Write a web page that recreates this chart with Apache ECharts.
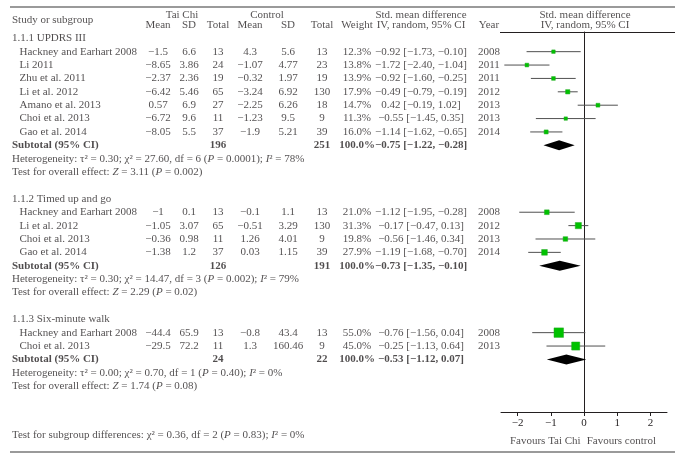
<!DOCTYPE html>
<html><head><meta charset="utf-8">
<script src="https://cdn.jsdelivr.net/npm/echarts@6/dist/echarts.min.js"></script>
<style>html,body{margin:0;padding:0;background:#fff}#c{width:682px;height:456px}</style>
</head><body><div id="c"></div>
<script>
// ---------- DATA ----------
// 1.1.1 UPDRS III
const g1Title = '1.1.1 UPDRS III';
const g1Studies = ['Hackney and Earhart 2008','Li 2011','Zhu et al. 2011','Li et al. 2012','Amano et al. 2013','Choi et al. 2013','Gao et al. 2014'];
const g1TcMean = [-1.5,-8.65,-2.37,-6.42,0.57,-6.72,-8.05];
const g1TcSD = [6.6,3.86,2.36,5.46,6.9,9.6,5.5];
const g1TcN = [13,24,19,65,27,11,37];
const g1CtMean = [4.3,-1.07,-0.32,-3.24,-2.25,-1.23,-1.9];
const g1CtSD = [5.6,4.77,1.97,6.92,6.26,9.5,5.21];
const g1CtN = [13,23,19,130,18,9,39];
const g1Weight = [12.3,13.8,13.9,17.9,14.7,11.3,16.0];
const g1Smd = [-0.92,-1.72,-0.92,-0.49,0.42,-0.55,-1.14];
const g1Lo = [-1.73,-2.40,-1.60,-0.79,-0.19,-1.45,-1.62];
const g1Hi = [-0.10,-1.04,-0.25,-0.19,1.02,0.35,-0.65];
const g1Year = [2008,2011,2011,2012,2013,2013,2014];
const g1Subtotal = [196,251,100.0,-0.75,-1.22,-0.28];

// 1.1.2 Timed up and go
const g2Title = '1.1.2 Timed up and go';
const g2Studies = ['Hackney and Earhart 2008','Li et al. 2012','Choi et al. 2013','Gao et al. 2014'];
const g2TcMean = [-1,-1.05,-0.36,-1.38];
const g2TcSD = [0.1,3.07,0.98,1.2];
const g2TcN = [13,65,11,37];
const g2CtMean = [-0.1,-0.51,1.26,0.03];
const g2CtSD = [1.1,3.29,4.01,1.15];
const g2CtN = [13,130,9,39];
const g2Weight = [21.0,31.3,19.8,27.9];
const g2Smd = [-1.12,-0.17,-0.56,-1.19];
const g2Lo = [-1.95,-0.47,-1.46,-1.68];
const g2Hi = [-0.28,0.13,0.34,-0.70];
const g2Year = [2008,2012,2013,2014];
const g2Subtotal = [126,191,100.0,-0.73,-1.35,-0.10];

// 1.1.3 Six-minute walk
const g3Title = '1.1.3 Six-minute walk';
const g3Studies = ['Hackney and Earhart 2008','Choi et al. 2013'];
const g3TcMean = [-44.4,-29.5];
const g3TcSD = [65.9,72.2];
const g3TcN = [13,11];
const g3CtMean = [-0.8,1.3];
const g3CtSD = [43.4,160.46];
const g3CtN = [13,9];
const g3Weight = [55.0,45.0];
const g3Smd = [-0.76,-0.25];
const g3Lo = [-1.56,-1.13];
const g3Hi = [0.04,0.64];
const g3Year = [2008,2013];
const g3Subtotal = [24,22,100.0,-0.53,-1.12,0.07];

// heterogeneity / overall effect per subgroup
const hetTau2 = ['0.30','0.30','0.00'];
const hetChi2 = ['27.60','14.47','0.70'];
const hetDf = [6,3,1];
const hetP = ['0.0001','0.002','0.40'];
const hetI2 = [78,79,0];
const overallZ = ['3.11','2.29','1.74'];
const overallP = ['0.002','0.02','0.08'];
const subgroupDiff = ['0.36',2,'0.83',0];

const tickValues = [-2,-1,0,1,2];
const favourLabels = ['Favours Tai Chi','Favours control'];

// ---------- BUILD ----------
const FONT = '"Liberation Serif","Times New Roman",serif';
const INK = '#231f20';
const groups = [
  {title:g1Title,studies:g1Studies,tcM:g1TcMean,tcS:g1TcSD,tcN:g1TcN,ctM:g1CtMean,ctS:g1CtSD,ctN:g1CtN,w:g1Weight,smd:g1Smd,lo:g1Lo,hi:g1Hi,yr:g1Year,sub:g1Subtotal},
  {title:g2Title,studies:g2Studies,tcM:g2TcMean,tcS:g2TcSD,tcN:g2TcN,ctM:g2CtMean,ctS:g2CtSD,ctN:g2CtN,w:g2Weight,smd:g2Smd,lo:g2Lo,hi:g2Hi,yr:g2Year,sub:g2Subtotal},
  {title:g3Title,studies:g3Studies,tcM:g3TcMean,tcS:g3TcSD,tcN:g3TcN,ctM:g3CtMean,ctS:g3CtSD,ctN:g3CtN,w:g3Weight,smd:g3Smd,lo:g3Lo,hi:g3Hi,yr:g3Year,sub:g3Subtotal}
];
const neg = v => (v < 0 ? '\u2212' : '');
const fN = v => neg(v) + String(Math.abs(v));
const f2 = v => neg(v) + Math.abs(v).toFixed(2);
const ciTxt = (s,l,h) => `${f2(s)} [${f2(l)}, ${f2(h)}]`;

const COL = {name:12, study:19.5, tcM:158, tcS:189, tcN:218, ctM:250, ctS:288, ctN:322, w:357, ci:421, yr:489, forest:585};
const texts = [];
function T(x,row,text,align,bold){
  const lab = {align:align||'center'};
  if (bold) lab.fontWeight = 'bold';
  texts.push({value:[x,row], name:String(text), label:lab});
}
// headers
T(COL.name,-2.33,'Study or subgroup','left');
T(182,-2.74,'Tai Chi'); T(COL.tcM,-1.96,'Mean'); T(COL.tcS,-1.96,'SD'); T(COL.tcN,-1.96,'Total');
T(267,-2.74,'Control'); T(COL.ctM,-1.96,'Mean'); T(COL.ctS,-1.96,'SD'); T(COL.ctN,-1.96,'Total');
T(COL.w,-1.96,'Weight'); T(COL.ci,-2.74,'Std. mean difference'); T(COL.ci,-1.96,'IV, random, 95% CI'); T(COL.yr,-1.96,'Year');
T(COL.forest,-2.74,'Std. mean difference'); T(COL.forest,-1.96,'IV, random, 95% CI');

const studyPts = [], diamondPts = [];
let r = -1;
groups.forEach((g,gi) => {
  T(COL.name,r,g.title,'left');
  g.studies.forEach((s,i) => {
    const row = r+1+i;
    T(COL.study,row,s,'left');
    T(COL.tcM,row,fN(g.tcM[i])); T(COL.tcS,row,fN(g.tcS[i])); T(COL.tcN,row,g.tcN[i]);
    T(COL.ctM,row,fN(g.ctM[i])); T(COL.ctS,row,fN(g.ctS[i])); T(COL.ctN,row,g.ctN[i]);
    T(COL.w,row,g.w[i].toFixed(1)+'%'); T(COL.ci,row,ciTxt(g.smd[i],g.lo[i],g.hi[i])); T(COL.yr,row,g.yr[i]);
    studyPts.push([g.smd[i],g.lo[i],g.hi[i],row,g.w[i]]);
  });
  const sr = r+g.studies.length+1;
  const su = g.sub;
  T(COL.name,sr,'Subtotal (95% CI)','left',true);
  T(COL.tcN,sr,su[0],'center',true); T(COL.ctN,sr,su[1],'center',true);
  T(COL.w,sr,su[2].toFixed(1)+'%','center',true); T(COL.ci,sr,ciTxt(su[3],su[4],su[5]),'center',true);
  diamondPts.push([su[3],su[4],su[5],sr]);
  T(COL.name,sr+1,`Heterogeneity: \u03c4\u00b2 = ${hetTau2[gi]}; \u03c7\u00b2 = ${hetChi2[gi]}, df = ${hetDf[gi]} ({i|P} = ${hetP[gi]}); {i|I}\u00b2 = ${hetI2[gi]}%`,'left');
  T(COL.name,sr+2,`Test for overall effect: {i|Z} = ${overallZ[gi]} ({i|P} = ${overallP[gi]})`,'left');
  r = sr+4;
});
T(COL.name,28.65,`Test for subgroup differences: \u03c7\u00b2 = ${subgroupDiff[0]}, df = ${subgroupDiff[1]} ({i|P} = ${subgroupDiff[2]}); {i|I}\u00b2 = ${subgroupDiff[3]}%`,'left');

const favour = [
  {value:[-0.1,29.1], name:favourLabels[0], label:{align:'right'}},
  {value:[0.08,29.1], name:favourLabels[1], label:{align:'left'}}
];

const Y_MIN = -1.47, Y_MAX = 26.93;
const labelBase = {show:true, position:'inside', verticalAlign:'middle', fontFamily:FONT, fontSize:11, color:INK,
  formatter:p=>p.name, rich:{i:{fontStyle:'italic', fontFamily:FONT, fontSize:11, color:INK}}};

const chart = echarts.init(document.getElementById('c'), null, {renderer:'canvas'});
chart.setOption({
  animation:false,
  backgroundColor:'#fff',
  grid:[
    {left:501, right:15, top:32, bottom:44},
    {left:0, right:0, top:32, bottom:44}
  ],
  xAxis:[
    {gridIndex:0, type:'value', min:-2.5, max:2.5,
     axisLine:{show:true, onZero:false, lineStyle:{color:INK, width:1}},
     axisTick:{show:true, customValues:tickValues, length:4, lineStyle:{color:INK}},
     axisLabel:{show:true, customValues:tickValues, formatter:v=>fN(v), fontFamily:FONT, fontSize:11, color:INK, margin:6},
     splitLine:{show:false}},
    {gridIndex:1, type:'value', min:0, max:682, show:false}
  ],
  yAxis:[
    {gridIndex:0, type:'value', inverse:true, min:Y_MIN, max:Y_MAX,
     axisLine:{show:true, onZero:true, lineStyle:{color:INK, width:1}},
     axisTick:{show:false}, axisLabel:{show:false}, splitLine:{show:false}},
    {gridIndex:1, type:'value', inverse:true, min:Y_MIN, max:Y_MAX, show:false}
  ],
  graphic:[
    {type:'line', shape:{x1:10,y1:7,x2:675,y2:7}, style:{stroke:'#9a9a9a', lineWidth:2}},
    {type:'line', shape:{x1:10,y1:452,x2:675,y2:452}, style:{stroke:'#9a9a9a', lineWidth:2}},
    {type:'line', shape:{x1:500,y1:32.5,x2:675,y2:32.5}, style:{stroke:INK, lineWidth:1}}
  ],
  series:[
    {type:'custom', xAxisIndex:0, yAxisIndex:0, silent:true, clip:false,
     data:studyPts, encode:{x:[0,1,2], y:3},
     renderItem:(params,api)=>{
       const row = api.value(3);
       const p = api.coord([api.value(0),row]);
       const a = api.coord([api.value(1),row]);
       const b = api.coord([api.value(2),row]);
       const s = 1.8 + api.value(4)*0.14;
       return {type:'group', children:[
         {type:'line', shape:{x1:a[0],y1:a[1],x2:b[0],y2:b[1]}, style:{stroke:'#505050', lineWidth:1}},
         {type:'rect', shape:{x:p[0]-s/2,y:p[1]-s/2,width:s,height:s}, style:{fill:'#00c200', stroke:'#22a822', lineWidth:0.5}}
       ]};
     }},
    {type:'custom', xAxisIndex:0, yAxisIndex:0, silent:true, clip:false,
     data:diamondPts, encode:{x:[0,1,2], y:3},
     renderItem:(params,api)=>{
       const row = api.value(3);
       const p = api.coord([api.value(0),row]);
       const a = api.coord([api.value(1),row]);
       const b = api.coord([api.value(2),row]);
       const h = 5;
       return {type:'polygon', shape:{points:[[a[0],p[1]],[p[0],p[1]-h],[b[0],p[1]],[p[0],p[1]+h]]}, style:{fill:'#000'}};
     }},
    {type:'scatter', xAxisIndex:0, yAxisIndex:0, silent:true, clip:false, symbolSize:1,
     itemStyle:{color:'transparent'}, data:favour, label:labelBase},
    {type:'scatter', xAxisIndex:1, yAxisIndex:1, silent:true, clip:false, symbolSize:1,
     itemStyle:{color:'transparent'}, data:texts, label:labelBase}
  ]
});
</script></body></html>
